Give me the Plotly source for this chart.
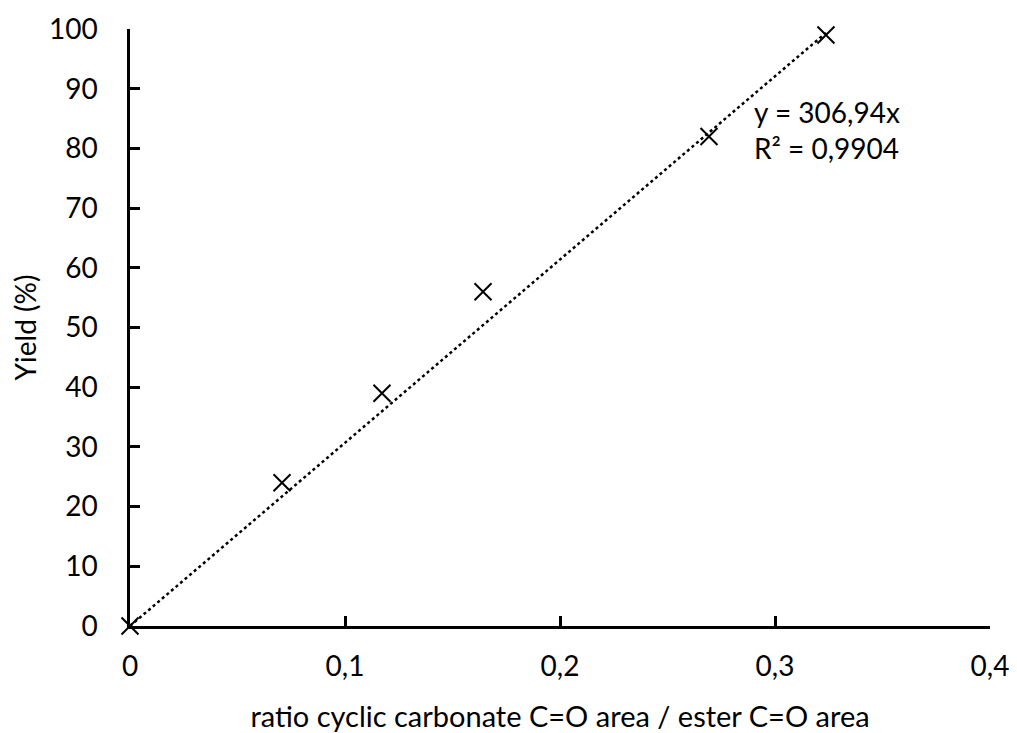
import plotly.graph_objects as go

# data
ratio = [0, 0.0707, 0.1172, 0.1642, 0.2693, 0.3237]
yield_pct = [0, 24, 39, 56, 82, 99]
slope = 306.94
r2_text = "0,9904"

x_ticks = [0, 0.1, 0.2, 0.3, 0.4]
y_ticks = list(range(0, 101, 10))

fnt = "Lato, Carlito, Calibri, sans-serif"

trend_x = [0, max(ratio)]
trend_y = [slope * v for v in trend_x]

fig = go.Figure()
fig.add_trace(go.Scatter(x=trend_x, y=trend_y, mode="lines",
                         line=dict(color="black", width=2.5, dash="dot"),
                         showlegend=False, hoverinfo="skip"))
fig.add_trace(go.Scatter(x=ratio, y=yield_pct, mode="markers",
                         marker=dict(symbol="x-thin", size=17,
                                     line=dict(color="black", width=2)),
                         showlegend=False, cliponaxis=False))

fig.add_annotation(x=0.2893, y=83, xref="x", yref="y",
                   text="y = 306,94x<br>R² = " + r2_text,
                   showarrow=False, xanchor="left", yanchor="middle", align="left",
                   font=dict(family=fnt, size=28, color="black"))

# page body has an 8px margin, so the figure is a bit smaller than the window
fig.update_layout(
    width=1009, height=725,
    margin=dict(l=122, r=27, t=21, b=107),
    plot_bgcolor="white", paper_bgcolor="white",
    separators=", ",
    font=dict(family=fnt, size=28, color="black"),
)
fig.update_xaxes(range=[0, 0.4], tickvals=x_ticks, showgrid=False, zeroline=False,
                 showline=True, linecolor="black", linewidth=2.5,
                 ticks="inside", ticklen=10, tickwidth=2.5, tickcolor="black",
                 ticklabelstandoff=14, automargin=False,
                 title=dict(text="ratio cyclic carbonate C=O area / ester C=O area",
                            standoff=26, font=dict(size=29)))
fig.update_yaxes(range=[0, 100], tickvals=y_ticks, showgrid=False, zeroline=False,
                 showline=True, linecolor="black", linewidth=2.5,
                 ticks="inside", ticklen=10, tickwidth=2.5, tickcolor="black",
                 ticklabelstandoff=24, automargin=False,
                 title=dict(text="Yield (%)", standoff=12, font=dict(size=28)))

fig.write_html("out.html")
